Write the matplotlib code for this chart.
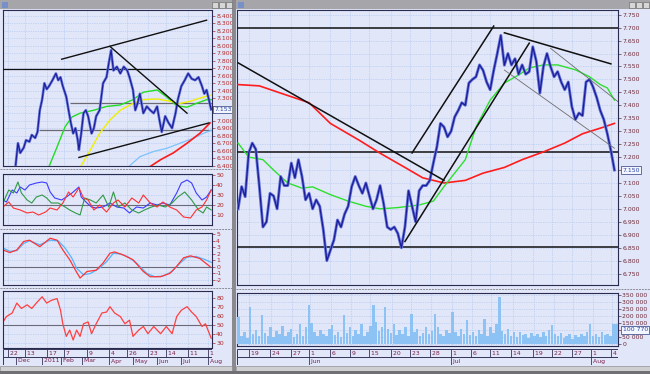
import numpy as np
import matplotlib
matplotlib.use('Agg')
import matplotlib.pyplot as plt
from matplotlib.patches import Rectangle
from matplotlib.lines import Line2D
import matplotlib.transforms as mtrans

# ---------------- LEFT WINDOW DATA (daily, trading-day index) ----------------
l_price_days = [11, 13, 15, 18, 20, 23, 25, 28, 30, 32, 34, 36, 38, 40, 43, 46, 48, 50, 52, 55,
                57, 59, 61, 63, 65, 66, 68, 70, 72, 74, 77, 79, 81, 84, 87, 90, 92, 94, 96, 99,
                102, 105, 108, 110, 113, 115, 117, 119, 122, 125, 128, 131, 134, 136, 138, 141,
                144, 147, 150, 152, 155, 158, 161, 164, 167, 170, 173, 175, 177, 179, 181]
l_price = [6.41, 6.70, 6.57, 6.64, 6.74, 6.72, 6.81, 6.77, 6.85, 7.14, 7.28, 7.50, 7.42, 7.46,
           7.54, 7.63, 7.54, 7.58, 7.46, 7.32, 7.14, 6.97, 6.83, 6.90, 6.74, 6.61, 6.83, 7.10,
           7.14, 7.06, 6.83, 6.90, 7.06, 7.14, 7.50, 7.58, 7.77, 7.94, 7.67, 7.72, 7.63, 7.72,
           7.67, 7.58, 7.41, 7.14, 7.23, 7.36, 7.10, 7.19, 7.14, 7.10, 7.19, 7.01, 6.85, 7.06,
           6.97, 6.90, 7.10, 7.28, 7.46, 7.54, 7.63, 7.56, 7.54, 7.58, 7.46, 7.36, 7.41, 7.28, 7.15]

l_ma_green_days = [39, 47, 54, 60, 67, 79, 90, 102, 113, 122, 134, 142, 151, 160, 168, 177, 181]
l_ma_green = [6.35, 6.65, 6.92, 7.05, 7.10, 7.14, 7.19, 7.21, 7.28, 7.38, 7.41, 7.32, 7.20, 7.18,
              7.23, 7.28, 7.28]
l_ma_yellow_days = [66, 76, 84, 93, 102, 113, 122, 134, 145, 154, 163, 171, 180]
l_ma_yellow = [6.35, 6.61, 6.83, 7.01, 7.14, 7.23, 7.28, 7.29, 7.26, 7.23, 7.26, 7.30, 7.34]
l_ma_blue_days = [108, 119, 131, 142, 154, 166, 174, 181]
l_ma_blue = [6.37, 6.52, 6.59, 6.63, 6.70, 6.77, 6.83, 6.87]
l_ma_red_days = [126, 137, 148, 160, 171, 180]
l_ma_red = [6.37, 6.48, 6.57, 6.70, 6.83, 6.97]

l_trend_days = [[51, 177], [66, 179], [93, 160]]
l_trend_vals = [[7.82, 8.34], [6.51, 6.97], [7.99, 7.10]]
l_level_black = 7.69
l_level_gray = [7.23, 6.87]
l_level_gray_start = [58, 31]
l_last = 7.153

adx_days = [0, 3, 8, 12, 15, 19, 23, 29, 34, 38, 41, 45, 51, 55, 60, 63, 66, 68, 73, 77, 81, 87,
            93, 99, 105, 110, 116, 122, 128, 134, 139, 145, 151, 155, 160, 164, 168, 173, 177, 181]
adx_blue = [25, 23, 35, 32, 38, 35, 40, 42, 43, 42, 33, 27, 25, 28, 32, 35, 38, 28, 22, 18, 17, 18,
            22, 18, 17, 12, 18, 17, 22, 20, 22, 20, 32, 42, 45, 42, 32, 25, 28, 35]
pdi_days = [0, 5, 9, 13, 16, 21, 25, 29, 34, 38, 42, 48, 54, 58, 63, 67, 71, 76, 81, 87, 92, 96,
            100, 106, 112, 118, 123, 129, 135, 141, 147, 152, 158, 164, 170, 174, 177, 181]
pdi_green = [22, 35, 32, 43, 32, 25, 22, 28, 30, 27, 22, 22, 18, 15, 12, 10, 27, 25, 22, 30, 18, 33,
             18, 22, 15, 12, 15, 18, 20, 18, 22, 28, 33, 25, 15, 12, 18, 15]
mdi_days = [0, 5, 9, 15, 21, 26, 31, 37, 41, 47, 52, 57, 61, 66, 70, 74, 79, 84, 90, 96, 100, 106,
            112, 118, 122, 128, 134, 139, 145, 151, 157, 163, 168, 173, 177, 181]
mdi_red = [18, 23, 17, 15, 12, 13, 10, 13, 17, 15, 22, 33, 28, 37, 27, 25, 15, 20, 13, 22, 25, 18,
           27, 22, 30, 22, 18, 23, 18, 15, 8, 7, 15, 18, 25, 35]

macd_days = [0, 6, 12, 18, 23, 32, 41, 47, 52, 58, 63, 67, 73, 81, 87, 93, 97, 105, 113, 122, 128,
             137, 145, 151, 157, 163, 171, 180]
macd_red = [2.6, 2.2, 2.6, 3.9, 4.1, 3.1, 4.4, 4.1, 2.6, 1.1, -0.5, -1.7, -0.7, -0.5, 0.6, 2.1,
            2.3, 1.8, 1.1, -0.7, -1.5, -1.5, -1.0, 0.1, 1.4, 1.7, 1.3, 0.05]
signal_days = [0, 6, 12, 18, 23, 32, 41, 48, 54, 60, 64, 70, 76, 83, 90, 96, 102, 109, 116, 125,
               132, 139, 147, 154, 160, 168, 176, 181]
signal_blue = [2.9, 2.4, 2.5, 3.6, 4.0, 3.4, 4.1, 4.0, 2.9, 1.3, -0.2, -1.2, -1.0, -0.3, 0.8, 2.1,
               2.0, 1.5, 0.6, -1.0, -1.5, -1.4, -0.7, 0.6, 1.5, 1.6, 1.1, 0.7]

rsi_days = [0, 3, 8, 12, 16, 21, 25, 29, 34, 38, 42, 47, 50, 52, 55, 58, 61, 64, 67, 70, 74, 77,
            81, 86, 90, 93, 97, 102, 106, 110, 113, 118, 122, 126, 131, 137, 142, 147, 151, 155,
            160, 164, 168, 173, 176, 181]
rsi_red = [53, 59, 63, 74, 68, 72, 68, 74, 81, 74, 77, 79, 66, 51, 37, 44, 33, 44, 37, 51, 53, 40,
           51, 63, 64, 70, 63, 59, 51, 55, 37, 44, 48, 40, 48, 40, 48, 40, 59, 66, 70, 64, 59, 48,
           51, 35]

l_day_ticks = [4, 19, 38, 53, 73, 92, 108, 126, 142, 161, 178]
l_day_labels = ['22', '13', '17', '7', '9', '4', '26', '23', '14', '11', '1']
l_month_ticks = [11, 34, 50, 69, 92, 113, 134, 155, 178]
l_month_labels = ['Dec', '2011', 'Feb', 'Mar', 'Apr', 'May', 'Jun', 'Jul', 'Aug']

# ---------------- RIGHT WINDOW DATA (hourly bars index) ----------------
r_price = [7.00, 7.086, 7.047, 7.216, 7.254, 7.23, 7.086, 6.93, 6.95, 7.06, 7.05, 7.00, 7.125,
           7.09, 7.09, 7.177, 7.12, 7.19, 7.125, 7.035, 7.06, 7.00, 7.035, 7.01, 6.92, 6.80,
           6.84, 6.88, 6.957, 6.93, 6.98, 7.01, 7.086, 7.125, 7.09, 7.06, 7.10, 7.05, 7.00,
           7.035, 7.09, 7.02, 6.93, 6.92, 6.93, 6.905, 6.85, 6.93, 7.07, 7.01, 6.95, 7.07, 7.09,
           7.09, 7.11, 7.177, 7.24, 7.33,
           7.316, 7.278, 7.30, 7.355, 7.38, 7.41, 7.40, 7.486, 7.50, 7.51, 7.556, 7.535, 7.49,
           7.46, 7.535, 7.60, 7.67, 7.555, 7.60, 7.556, 7.58, 7.52, 7.556, 7.52, 7.53, 7.626,
           7.57, 7.447, 7.55, 7.60, 7.55, 7.51, 7.53, 7.49, 7.46, 7.49, 7.395, 7.345, 7.37, 7.36,
           7.49, 7.50, 7.47, 7.43, 7.38, 7.345, 7.29, 7.225, 7.15]
r_ma_red_bars = [0, 6, 12, 20, 26, 34, 40, 47, 52, 58, 64, 69, 75, 80, 86, 92, 97, 103, 106]
r_ma_red = [7.48, 7.475, 7.447, 7.41, 7.33, 7.266, 7.215, 7.16, 7.12, 7.10, 7.11, 7.138, 7.16,
            7.19, 7.22, 7.254, 7.29, 7.316, 7.33]
r_ma_green_bars = [0, 3, 7, 10, 14, 18, 21, 26, 31, 36, 40, 45, 51, 55, 58, 64, 67, 71, 75, 79,
                   82, 86, 90, 95, 99, 102, 104, 106]
r_ma_green = [7.254, 7.20, 7.19, 7.15, 7.10, 7.08, 7.085, 7.055, 7.03, 7.01, 7.00, 7.005, 7.015,
              7.03, 7.086, 7.19, 7.316, 7.42, 7.486, 7.517, 7.544, 7.556, 7.556, 7.537, 7.51,
              7.48, 7.467, 7.42]
r_trend_bars = [[0, 58], [49, 72], [47, 82], [75, 105]]
r_trend_vals = [[7.564, 7.11], [7.216, 7.706], [6.874, 7.64], [7.68, 7.56]]
r_chan_bars = [[88, 107], [75, 106]]
r_chan_vals = [[7.62, 7.414], [7.536, 7.234]]
r_levels = [7.70, 7.22, 6.853]
r_last = 7.150

r_volume_k = [190, 60, 90, 45, 263, 70, 100, 55, 205, 80, 60, 120, 50, 95, 70, 130, 60, 85, 110,
              50, 75, 140, 60, 120, 275, 150, 90, 60, 100, 70, 55, 110, 135, 65, 90, 50, 205, 80,
              120, 60, 100, 75, 140, 55, 90, 130, 275, 160, 95, 120, 263, 110, 80, 140, 65, 100,
              75, 120, 60, 215, 90, 110, 55, 80, 120, 70, 95, 215, 120, 75, 60, 100, 80, 228, 90,
              60, 110, 70, 170, 65, 90, 55, 100, 75, 180, 60, 120, 80, 140, 335, 95, 70, 110, 60,
              85, 50, 90, 65, 75, 45, 80, 60, 70, 50, 85, 60, 100, 135, 70, 55, 80, 45, 60, 75,
              40, 65, 50, 70, 55, 90, 145, 60, 75, 50, 85, 65, 70, 55, 145, 140]
r_volume_last = '100 770'
r_last_vol = 101000

r_day_ticks = [3, 9, 15, 20, 26, 31.5, 37, 43, 48.5, 54, 60, 65.5, 71, 77, 83, 88.5, 94, 99.5, 105]
r_day_labels = ['19', '24', '27', '1', '6', '9', '15', '20', '23', '28', '1', '6', '11', '14',
                '19', '22', '27', '1', '4']
r_month_ticks = [20, 60, 99.5]
r_month_labels = ['Jun', 'Jul', 'Aug']

# ---------------- FIGURE ----------------
W, H = 650, 374
fig = plt.figure(figsize=(6.5, 3.74), dpi=100)
BG = '#e1e6f9'
fig.patch.set_facecolor(BG)
plt.rcParams['font.family'] = ['DejaVu Sans']
FS = 4.4


def pax(x0, y0, x1, y1):
    return fig.add_axes([x0 / W, 1 - y1 / H, (x1 - x0) / W, (y1 - y0) / H])


def frect(x0, y0, x1, y1, color, ec='none', lw=0.0):
    fig.add_artist(Rectangle((x0 / W, 1 - y1 / H), (x1 - x0) / W, (y1 - y0) / H,
                             transform=fig.transFigure, facecolor=color, edgecolor=ec,
                             linewidth=lw, zorder=0.5))


def fline(x0, y0, x1, y1, color, lw=0.8, ls='-'):
    fig.add_artist(Line2D([x0 / W, x1 / W], [1 - y0 / H, 1 - y1 / H], transform=fig.transFigure,
                          color=color, lw=lw, ls=ls, zorder=0.6))


# window chrome
frect(0, 0, 232, 9, '#a6a6aa')
frect(236, 0, 650, 9, '#a6a6aa')
frect(232, 0, 236, 374, '#8a8a8e')
frect(2, 2, 8, 8, '#7890c8')
frect(238, 2, 244, 8, '#7890c8')
for bx in (212, 219, 226):
    frect(bx, 2, bx + 6, 8, '#d6d6d6', ec='#606060', lw=0.4)
for bx in (629, 636, 643):
    frect(bx, 2, bx + 6, 8, '#d6d6d6', ec='#606060', lw=0.4)
frect(0, 366, 232, 371, '#cfcfd2', ec='#808080', lw=0.4)
frect(236, 366, 650, 371, '#cfcfd2', ec='#808080', lw=0.4)
frect(0, 371, 650, 374, '#707074')
for sy in (169.5, 229.0, 288.0):
    fline(0, sy, 232, sy, '#8c8c98', lw=0.7, ls=(0, (2, 1)))
fline(236, 288.8, 650, 288.8, '#8c8c98', lw=0.7, ls=(0, (2, 1)))

GRID = '#a6c2ee'
SPINE = '#2a2a4e'


def style(ax, xlim, ylim, yticks, fmt, tcolor, xgrid, hide=()):
    ax.set_facecolor(BG)
    ax.set_xlim(*xlim)
    ax.set_ylim(*ylim)
    ax.yaxis.tick_right()
    ax.set_yticks(yticks)
    ax.set_yticklabels(['' if any(abs(v - h) < 1e-9 for h in hide) else fmt(v) for v in yticks])
    ax.tick_params(axis='y', labelsize=FS, colors=tcolor, length=2, width=0.5, pad=1)
    ax.set_xticks(xgrid)
    ax.tick_params(axis='x', length=0, labelbottom=False)
    ax.grid(True, color=GRID, ls=(0, (1, 1.5)), lw=0.5)
    ax.set_axisbelow(True)
    for s in ax.spines.values():
        s.set_color(SPINE)
        s.set_linewidth(0.8)


def date_strip(ax, xlim, dpos, dlab, mpos, mlab):
    ax.set_facecolor(BG)
    ax.set_xlim(*xlim)
    ax.set_ylim(0, 2)
    ax.set_xticks([])
    ax.set_yticks([])
    for s in ax.spines.values():
        s.set_visible(False)
    ax.hlines([1.0, 1.98], xlim[0], xlim[1], color='#34345a', lw=0.7)
    ax.vlines([xlim[0]], 0, 2, color='#34345a', lw=0.7)
    ax.vlines(dpos, 1.0, 1.98, color='#34345a', lw=0.6)
    ax.vlines(mpos, 0.0, 1.0, color='#34345a', lw=0.6)
    for p, t in zip(dpos, dlab):
        ax.text(p, 1.48, ' ' + t, ha='left', va='center', fontsize=FS, color='#7a1f48')
    for p, t in zip(mpos, mlab):
        ax.text(p, 0.5, ' ' + t, ha='left', va='center', fontsize=FS, color='#7a1f48')


def last_box(ax, y, txt):
    tr = mtrans.blended_transform_factory(ax.transAxes, ax.transData)
    ax.text(1.012, y, txt, transform=tr, fontsize=FS, color='#2846a8', ha='left', va='center',
            zorder=6, bbox=dict(boxstyle='square,pad=0.18', fc='#f3f5ff', ec='#2c3c80', lw=0.5))


LX = (0, 181.7)
LCOL = '#b02a2a'
RCOL = '#6e2a38'

# ---- left main
axL = pax(3, 10, 212, 166)
style(axL, LX, (6.396, 8.476), np.round(np.arange(6.4, 8.41, 0.1), 2),
      lambda v: f'{v:.3f}', LCOL, l_day_ticks, hide=(7.2, 7.1))
axL.axhline(l_level_black, color='#111111', lw=0.9, zorder=3)
for lv, st in zip(l_level_gray, l_level_gray_start):
    axL.hlines(lv, st, LX[1], color='#6a6a74', lw=0.9, zorder=3)
axL.plot(l_ma_blue_days, l_ma_blue, color='#7cc2ff', lw=0.9, zorder=3)
axL.plot(l_ma_red_days, l_ma_red, color='#ff1a1a', lw=1.2, zorder=3)
axL.plot(l_ma_green_days, l_ma_green, color='#22dd22', lw=1.0, zorder=3)
axL.plot(l_ma_yellow_days, l_ma_yellow, color='#f0f000', lw=1.0, zorder=3)
axL.plot(l_price_days, l_price, color='#6474d8', lw=1.9, zorder=4)
axL.plot(l_price_days, l_price, color='#1b1b98', lw=0.8, zorder=5)
for d, v in zip(l_trend_days, l_trend_vals):
    axL.plot(d, v, color='#101010', lw=1.0, zorder=6)
last_box(axL, l_last, f'{l_last:.3f}')

# ---- ADX
axA = pax(3, 174, 212, 225)
style(axA, LX, (0, 51), [10, 20, 30, 40, 50], lambda v: f'{v:g}', LCOL, l_day_ticks)
axA.axhline(20, color='#6a6a7a', lw=0.8)
axA.plot(adx_days, adx_blue, color='#3c3cff', lw=0.8)
axA.plot(pdi_days, pdi_green, color='#2f9a45', lw=0.8)
axA.plot(mdi_days, mdi_red, color='#ff3030', lw=0.8)

# ---- MACD
axM = pax(3, 233, 212, 285)
style(axM, LX, (-2.77, 5.2), list(range(-2, 6)), lambda v: f'{v:g}', LCOL, l_day_ticks)
axM.axhline(0, color='#6a6a7a', lw=0.8)
axM.plot(signal_days, signal_blue, color='#55b4ff', lw=0.9)
axM.plot(macd_days, macd_red, color='#ff3434', lw=0.9)

# ---- RSI
axR = pax(3, 291, 212, 348)
style(axR, LX, (24.1, 87.4), [30, 40, 50, 60, 70, 80], lambda v: f'{v:g}', LCOL, l_day_ticks)
axR.axhline(50, color='#6a6a7a', lw=0.8)
axR.plot(rsi_days, rsi_red, color='#ff4040', lw=0.9)

axLD = pax(3, 349, 212, 365)
date_strip(axLD, LX, l_day_ticks, l_day_labels, l_month_ticks, l_month_labels)

# ---- right main
RX = (-0.3, 107)
rx = np.arange(len(r_price))
axP = pax(237, 10, 618, 285)
style(axP, RX, (6.706, 7.768), np.round(np.arange(6.75, 7.751, 0.05), 3),
      lambda v: f'{v:.3f}', RCOL, r_day_ticks)
for lv in r_levels:
    axP.axhline(lv, color='#111111', lw=1.1, zorder=3)
axP.plot(r_ma_red_bars, r_ma_red, color='#ff1c1c', lw=1.2, zorder=3)
axP.plot(r_ma_green_bars, r_ma_green, color='#2ee02e', lw=1.0, zorder=3)
axP.plot(rx, r_price, color='#6474d8', lw=2.1, zorder=4)
axP.plot(rx, r_price, color='#1b1b98', lw=0.9, zorder=5)
for b, v in zip(r_trend_bars, r_trend_vals):
    axP.plot(b, v, color='#101010', lw=1.1, zorder=6)
for b, v in zip(r_chan_bars, r_chan_vals):
    axP.plot(b, v, color='#6e6e6e', lw=0.6, zorder=6)
last_box(axP, r_last, f'{r_last:.3f}')

# ---- volume
vol = np.array(r_volume_k) * 1000
vx = np.arange(len(vol))
axV = pax(237, 293, 618, 346)
vt = list(range(0, 350001, 50000))
style(axV, (-0.5, len(vol) - 0.5), (-12000, 361000), vt,
      lambda v: f'{int(v):,}'.replace(',', ' '), RCOL,
      np.array(r_day_ticks) * len(vol) / RX[1], hide=(100000,))
axV.bar(vx, vol, width=0.85, color='#8cc2f4', edgecolor='none', zorder=3)
last_box(axV, r_last_vol, r_volume_last)

axRD = pax(237, 349, 618, 365)
date_strip(axRD, RX, r_day_ticks, r_day_labels, r_month_ticks, r_month_labels)

fig.savefig('out.png', dpi=100, facecolor=fig.get_facecolor())
